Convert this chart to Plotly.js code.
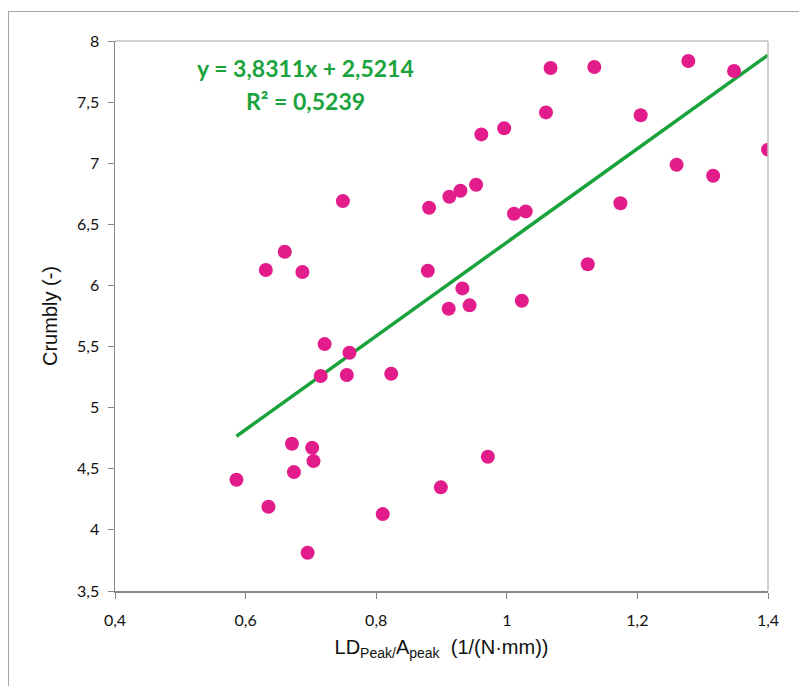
<!DOCTYPE html>
<html>
<head>
<meta charset="utf-8">
<script src="https://cdn.plot.ly/plotly-3.0.1.min.js"></script>
<style>
html,body{margin:0;padding:0;background:#fff;}
#wrap{position:relative;width:799px;height:686px;overflow:hidden;}
#chart{position:absolute;left:0;top:0;width:799px;height:686px;}
#frame{position:absolute;left:8px;top:11px;width:820px;height:700px;border-left:1px solid #a6a6a6;border-top:1px solid #a6a6a6;pointer-events:none;}
</style>
</head>
<body>
<div id="wrap"><div id="chart"></div><div id="frame"></div></div>
<script>
const xValues = [0.749,0.660,0.631,0.687,1.067,1.134,1.278,1.348,1.060,1.205,0.996,0.961,1.400,1.260,1.316,0.953,0.929,0.912,0.881,1.011,1.029,1.174,1.124,0.879,0.932,0.911,0.943,1.023,0.721,0.759,0.715,0.755,0.823,0.671,0.702,0.704,0.674,0.586,0.635,0.810,0.695,0.971,0.899];
const yValues = [6.69,6.276,6.126,6.110,7.779,7.787,7.836,7.755,7.416,7.392,7.286,7.236,7.111,6.988,6.898,6.824,6.775,6.726,6.636,6.587,6.606,6.672,6.173,6.120,5.976,5.809,5.837,5.875,5.520,5.449,5.259,5.267,5.277,4.705,4.672,4.563,4.473,4.410,4.189,4.129,3.813,4.598,4.348];
const slope = 3.8311;
const intercept = 2.5214;
const eqText = "y = 3,8311x + 2,5214";
const r2Text = "R² = 0,5239";

const xMin = Math.min(...xValues), xMax = Math.max(...xValues);
const trendX = [xMin, xMax];
const trendY = trendX.map(v => slope*v + intercept);

const data = [
  {x: trendX, y: trendY, mode:'lines', type:'scatter', line:{color:'#1aa33c', width:3.5}, hoverinfo:'skip'},
  {x: xValues, y: yValues, mode:'markers', type:'scatter', marker:{color:'#e31c8c', size:14}}
];

const tickFont = {family:'Lato, "Open Sans", sans-serif', size:16, color:'#111'};
const layout = {
  width:799, height:686,
  margin:{l:115, r:31, t:41, b:95},
  showlegend:false,
  separators:',.',
  paper_bgcolor:'rgba(0,0,0,0)', plot_bgcolor:'#fff',
  xaxis:{range:[0.4,1.4], dtick:0.2, tick0:0.4, showgrid:false, zeroline:false,
    showline:true, linecolor:'#868686', linewidth:1.5, ticks:'outside', ticklen:6, tickcolor:'#868686', tickwidth:1,
    tickfont:tickFont, ticklabelstandoff:8,
    title:{text:'LD<sub>Peak/</sub>A<sub>peak</sub>  (1/(N·mm))', font:{family:'"Liberation Sans", Arial, sans-serif', size:20, color:'#111'}, standoff:12}},
  yaxis:{range:[3.5,8], dtick:0.5, tick0:3.5, showgrid:false, zeroline:false,
    showline:true, linecolor:'#868686', linewidth:1.5, ticks:'outside', ticklen:6, tickcolor:'#868686', tickwidth:1,
    tickfont:tickFont, ticklabelstandoff:5,
    title:{text:'Crumbly (-)', font:{family:'"Liberation Sans", Arial, sans-serif', size:20, color:'#111'}, standoff:14}},
  shapes:[
    {type:'line', xref:'paper', yref:'paper', x0:0, x1:1, y0:1, y1:1, line:{color:'#c0c0c0', width:1.5}},
    {type:'line', xref:'paper', yref:'paper', x0:1, x1:1, y0:0, y1:1, line:{color:'#c0c0c0', width:1.5}}
  ],
  annotations:[
    {x:0.692, y:7.78, xref:'x', yref:'y', text:'<b>'+eqText+'</b>', showarrow:false, font:{family:'Lato, "Open Sans", sans-serif', size:23, color:'#1aa33c'}},
    {x:0.692, y:7.51, xref:'x', yref:'y', text:'<b>'+r2Text+'</b>', showarrow:false, font:{family:'Lato, "Open Sans", sans-serif', size:23, color:'#1aa33c'}}
  ]
};
Plotly.newPlot('chart', data, layout, {displayModeBar:false, staticPlot:true});
</script>
</body>
</html>
